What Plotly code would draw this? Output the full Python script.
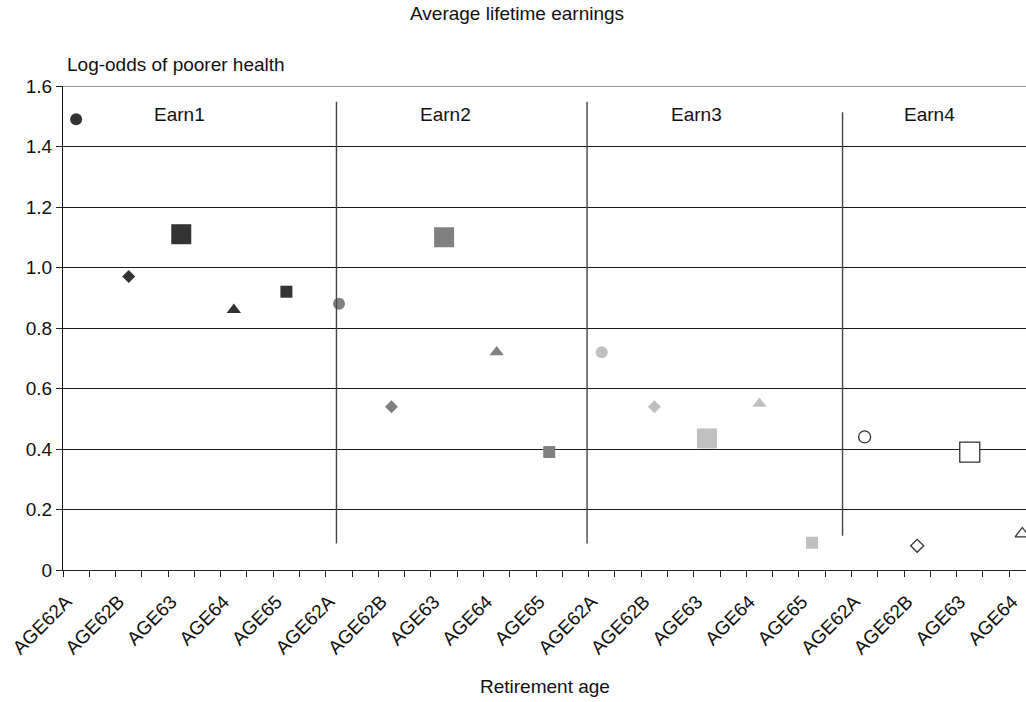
import plotly.graph_objects as go

# Retirement-age categories within each earnings quartile
ages = ["AGE62A", "AGE62B", "AGE63", "AGE64", "AGE65"]
groups = ["Earn1", "Earn2", "Earn3", "Earn4"]

# Log-odds of poorer health by retirement age, per earnings group
earn1 = [1.49, 0.97, 1.11, 0.86, 0.92]
earn2 = [0.88, 0.54, 1.10, 0.72, 0.39]
earn3 = [0.72, 0.54, 0.435, 0.55, 0.09]
earn4 = [0.44, 0.08, 0.39, 0.12]

y_ticks = [0, 0.2, 0.4, 0.6, 0.8, 1.0, 1.2, 1.4, 1.6]
y_ticktext = ["0", "0.2", "0.4", "0.6", "0.8", "1.0", "1.2", "1.4", "1.6"]

# Styling
FONT = "Liberation Sans, Arial, Helvetica, sans-serif"
symbols = ["circle", "diamond", "square", "triangle-up", "square"]
sizes = [12, 10, 20, 12.5, 12]
fills = ["#333333", "#808080", "#c0c0c0", "#ffffff"]
outlines = ["#333333", "#808080", "#c0c0c0", "#333333"]
label_x = [1.97, 7.03, 11.8, 16.24]
separators = [(4.952, 0.088, 1.548), (9.72, 0.088, 1.548), (14.58, 0.113, 1.513)]

series = [earn1, earn2, earn3, earn4]
fig = go.Figure()
tick_pos, tick_txt = [], []
for g, vals in enumerate(series):
    xs = [5 * g + a for a in range(len(vals))]
    fig.add_trace(go.Scatter(
        x=xs, y=vals, mode="markers", name=groups[g],
        cliponaxis=True,
        marker=dict(
            symbol=symbols[:len(vals)], size=sizes[:len(vals)],
            color=fills[g], opacity=1,
            line=dict(color=outlines[g], width=1.3 if g == 3 else 0),
        ),
        showlegend=False,
    ))
    tick_pos += xs
    tick_txt += ages[:len(vals)]

for g, name in enumerate(groups):
    fig.add_annotation(x=label_x[g], y=1.507, xref="x", yref="y", text=name,
                       showarrow=False, xanchor="center", yanchor="middle",
                       font=dict(size=19, color="#111"))

for xv, y0, y1 in separators:
    fig.add_shape(type="line", xref="x", yref="y", x0=xv, x1=xv, y0=y0, y1=y1,
                  line=dict(color="#444", width=1.4))

# top gridline along the upper edge of the plot area
fig.add_shape(type="line", xref="paper", yref="y", x0=0, x1=1, y0=1.6, y1=1.6,
              line=dict(color="#333", width=1.2))

fig.add_annotation(x=0.471, y=1.149, xref="paper", yref="paper",
                   xanchor="center", yanchor="middle",
                   text="Average lifetime earnings", showarrow=False,
                   font=dict(size=19, color="#111"))
fig.add_annotation(x=0.002, y=1.045, xref="paper", yref="paper",
                   xanchor="left", yanchor="middle",
                   text="Log-odds of poorer health", showarrow=False,
                   font=dict(size=19, color="#111"))
fig.add_annotation(x=0.5, y=-0.241, xref="paper", yref="paper",
                   xanchor="center", yanchor="middle",
                   text="Retirement age", showarrow=False,
                   font=dict(size=19, color="#111"))

fig.update_layout(
    width=1026, height=702,
    margin=dict(l=63, r=0, t=86, b=132, pad=0),
    paper_bgcolor="white", plot_bgcolor="white",
    font=dict(family=FONT, size=19, color="#111"),
    xaxis=dict(
        range=[-0.25, 18.07],
        tickmode="array", tickvals=tick_pos, ticktext=tick_txt,
        tickangle=-45, ticks="", ticklabelstandoff=12, ticklabelshift=-10,
        ticklabeloverflow="allow",
        showgrid=False, zeroline=False,
        showline=True, linecolor="#222", linewidth=1.3,
        minor=dict(tick0=-0.25, dtick=0.5, ticks="outside", ticklen=6,
                   tickcolor="#222", tickwidth=1, showgrid=False),
        tickfont=dict(size=19, color="#111"),
    ),
    yaxis=dict(
        range=[0, 1.6],
        tickmode="array", tickvals=y_ticks, ticktext=y_ticktext,
        ticks="outside", ticklen=6, tickcolor="#222",
        showgrid=True, gridcolor="#1a1a1a", gridwidth=1,
        zeroline=False, showline=True, linecolor="#111", linewidth=1.3,
        tickfont=dict(size=19, color="#111"),
    ),
)

fig.write_html("out.html")
